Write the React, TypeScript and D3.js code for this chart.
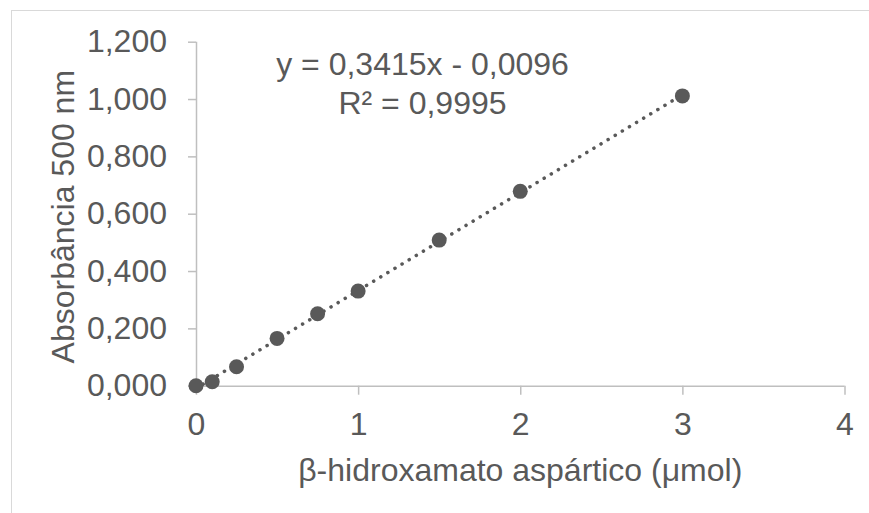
import * as d3 from "d3";
import React from "react";

const xValues = [0, 0.1, 0.25, 0.5, 0.75, 1, 1.5, 2, 3];
const yValues = [0.0, 0.014, 0.066, 0.165, 0.251, 0.33, 0.508, 0.678, 1.011];
const xTicks = [0, 1, 2, 3, 4];
const yTicks = [0, 0.2, 0.4, 0.6, 0.8, 1.0, 1.2];
const slope = 0.3415;
const intercept = -0.0096;
const equationLines = ["y = 0,3415x - 0,0096", "R² = 0,9995"];
const xTitle = "β-hidroxamato aspártico (μmol)";
const yTitle = "Absorbância 500 nm";

const W = 869;
const H = 513;
const margin = { top: 41.7, right: 24.5, bottom: 127.3, left: 196 };
const FONT = "'Liberation Sans', Arial, sans-serif";
const TEXT = "#595959";
const AXIS = "#bfbfbf";

const fmtY = (v: number) => v.toFixed(3).replace(".", ",");

export default function App() {
  const svgRef = React.useRef<SVGSVGElement>(null);

  React.useEffect(() => {
    if (!svgRef.current) return;
    const svg = d3.select(svgRef.current);
    svg.selectAll("*").remove();

    const innerW = W - margin.left - margin.right;
    const innerH = H - margin.top - margin.bottom;

    const x = d3.scaleLinear().domain([0, 4]).range([0, innerW]);
    const y = d3.scaleLinear().domain([0, 1.2]).range([innerH, 0]);

    // chart frame
    svg
      .append("rect")
      .attr("x", 11.5)
      .attr("y", 10.5)
      .attr("width", 900)
      .attr("height", 600)
      .attr("fill", "#fff")
      .attr("stroke", "#d9d9d9")
      .attr("stroke-width", 1);

    const g = svg.append("g").attr("transform", `translate(${margin.left},${margin.top})`);

    const yAxis = d3
      .axisLeft<number>(y)
      .tickValues(yTicks)
      .tickSize(8)
      .tickPadding(21)
      .tickFormat((v) => fmtY(v));
    const xAxis = d3
      .axisBottom<number>(x)
      .tickValues(xTicks)
      .tickSize(9)
      .tickPadding(18)
      .tickFormat((v) => String(v));

    const ya = g.append("g").call(yAxis as any);
    const xa = g.append("g").attr("transform", `translate(0,${innerH})`).call(xAxis as any);

    [ya, xa].forEach((a) => {
      a.select(".domain").attr("stroke", AXIS).attr("stroke-width", 1.5);
      a.selectAll(".tick line").attr("stroke", AXIS).attr("stroke-width", 1.5);
      a.selectAll(".tick text")
        .attr("fill", TEXT)
        .attr("font-family", FONT)
        .attr("font-size", 32);
    });
    ya.select(".domain").attr("d", `M0.5,0V${innerH}`);
    xa.select(".domain").attr("d", `M0,0.5H${innerW}`);

    // trendline
    const line = d3
      .line<number>()
      .x((d) => x(d))
      .y((d) => y(slope * d + intercept));
    g.append("path")
      .datum([0, 3])
      .attr("d", line)
      .attr("fill", "none")
      .attr("stroke", TEXT)
      .attr("stroke-width", 3.5)
      .attr("stroke-linecap", "round")
      .attr("stroke-dasharray", "0.1 8.2");

    // markers
    g.selectAll("circle.pt")
      .data(xValues.map((v, i) => [v, yValues[i]]))
      .enter()
      .append("circle")
      .attr("class", "pt")
      .attr("cx", (d) => x(d[0]))
      .attr("cy", (d) => y(d[1]))
      .attr("r", 7.5)
      .attr("fill", TEXT);

    // equation label
    const eq = svg
      .append("text")
      .attr("x", 422.5)
      .attr("y", 75)
      .attr("text-anchor", "middle")
      .attr("fill", TEXT)
      .attr("font-family", FONT)
      .attr("font-size", 32);
    equationLines.forEach((t, i) => {
      eq.append("tspan").attr("x", 422.5).attr("dy", i === 0 ? 0 : 39).text(t);
    });

    // axis titles
    svg
      .append("text")
      .attr("x", margin.left + innerW / 2)
      .attr("y", 481)
      .attr("text-anchor", "middle")
      .attr("fill", TEXT)
      .attr("font-family", FONT)
      .attr("font-size", 32)
      .text(xTitle);

    svg
      .append("text")
      .attr("transform", `translate(74,${margin.top + innerH / 2 + 3}) rotate(-90)`)
      .attr("text-anchor", "middle")
      .attr("fill", TEXT)
      .attr("font-family", FONT)
      .attr("font-size", 32)
      .text(yTitle);
  }, []);

  return (
    <div style={{ position: "fixed", left: 0, top: 0, width: W, height: H, background: "#fff" }}>
      <svg ref={svgRef} width={W} height={H} style={{ display: "block" }} />
    </div>
  );
}
